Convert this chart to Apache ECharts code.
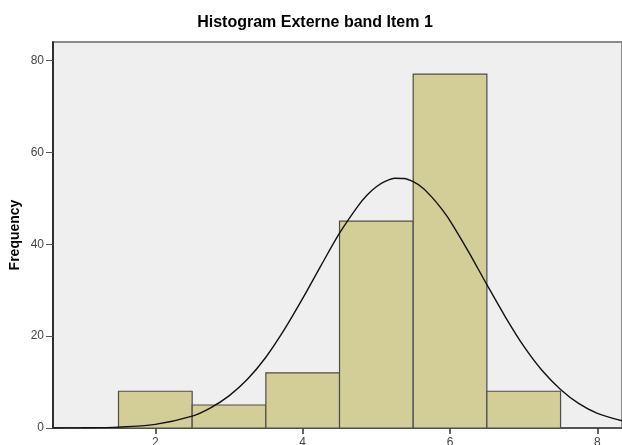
<!DOCTYPE html>
<html>
<head>
<meta charset="utf-8">
<script src="https://cdn.jsdelivr.net/npm/echarts@6/dist/echarts.min.js"></script>
<style>
html,body{margin:0;padding:0;background:#fff;}
#c{width:622px;height:445px;}
</style>
</head>
<body>
<div id="c"></div>
<script>
const title = 'Histogram Externe band Item 1';
const yName = 'Frequency';
const binStart = [1.5, 2.5, 3.5, 4.5, 5.5, 6.5];
const binEnd = [2.5, 3.5, 4.5, 5.5, 6.5, 7.5];
const frequency = [8, 5, 12, 45, 77, 8];
const xTicks = [2, 4, 6, 8];
const yTicks = [0, 20, 40, 60, 80];
const curveX = [0.6, 1.0, 1.5, 2.0, 2.5, 2.75, 3.0, 3.25, 3.5, 3.75, 4.0, 4.25, 4.5, 4.75, 4.875, 5.0, 5.125, 5.25, 5.375, 5.5, 5.625, 5.75, 5.875, 6.0, 6.25, 6.5, 6.75, 7.0, 7.25, 7.5, 7.75, 8.0, 8.35];
const curveY = [0.01, 0.04, 0.2, 0.8, 2.6, 4.4, 7.0, 10.6, 15.4, 21.4, 28.2, 35.4, 42.4, 48.3, 50.7, 52.5, 53.7, 54.35, 54.3, 53.6, 52.3, 50.3, 47.9, 45.1, 38.4, 31.2, 24.2, 17.8, 12.5, 8.4, 5.3, 3.2, 1.5];

const barData = binStart.map((s, i) => [s, binEnd[i], frequency[i]]);
const curveData = curveX.map((x, i) => [x, curveY[i]]);

const chart = echarts.init(document.getElementById('c'), null, {renderer: 'canvas'});
chart.setOption({
  animation: false,
  backgroundColor: '#ffffff',
  title: {
    text: title,
    left: 310, top: 10, textAlign: 'center',
    textStyle: {fontFamily: 'Liberation Sans, Arial, sans-serif', fontSize: 16, fontWeight: 'bold', color: '#000'}
  },
  grid: {
    left: 53, top: 42, right: 0, bottom: 17,
    outerBoundsMode: 'none', containLabel: false,
    show: true, backgroundColor: '#efefef', borderColor: '#8a8a8a', borderWidth: 2
  },
  xAxis: {
    type: 'value', min: 0.611, max: 8.334,
    splitLine: {show: false},
    axisLine: {show: true, onZero: false, lineStyle: {color: '#555', width: 2}},
    axisTick: {show: true, length: 6, customValues: xTicks, lineStyle: {color: '#333', width: 1.5}},
    axisLabel: {customValues: xTicks, margin: 9, fontSize: 12, color: '#444', fontFamily: 'Liberation Sans, Arial, sans-serif'}
  },
  yAxis: {
    type: 'value', min: 0, max: 84,
    name: yName, nameLocation: 'middle', nameGap: 31, nameMoveOverlap: false,
    nameTextStyle: {fontFamily: 'Liberation Sans, Arial, sans-serif', fontSize: 14, fontWeight: 'bold', color: '#000'},
    splitLine: {show: false},
    axisLine: {show: true, lineStyle: {color: '#111', width: 1.5}},
    axisTick: {show: true, length: 7, customValues: yTicks, lineStyle: {color: '#555', width: 1}},
    axisLabel: {customValues: yTicks, margin: 9, fontSize: 12, color: '#444', fontFamily: 'Liberation Sans, Arial, sans-serif'}
  },
  series: [
    {
      type: 'custom',
      data: barData,
      renderItem: function (params, api) {
        const p0 = api.coord([api.value(0), 0]);
        const p1 = api.coord([api.value(1), api.value(2)]);
        return {
          type: 'rect',
          shape: {x: p0[0], y: p1[1], width: p1[0] - p0[0], height: p0[1] - p1[1]},
          style: {fill: '#d3ce98', stroke: '#4d4d4d', lineWidth: 1.2}
        };
      },
      z: 2
    },
    {
      type: 'line',
      data: curveData,
      smooth: 0.3,
      showSymbol: false,
      lineStyle: {color: '#111', width: 1.4},
      z: 3
    }
  ]
});
</script>
</body>
</html>
